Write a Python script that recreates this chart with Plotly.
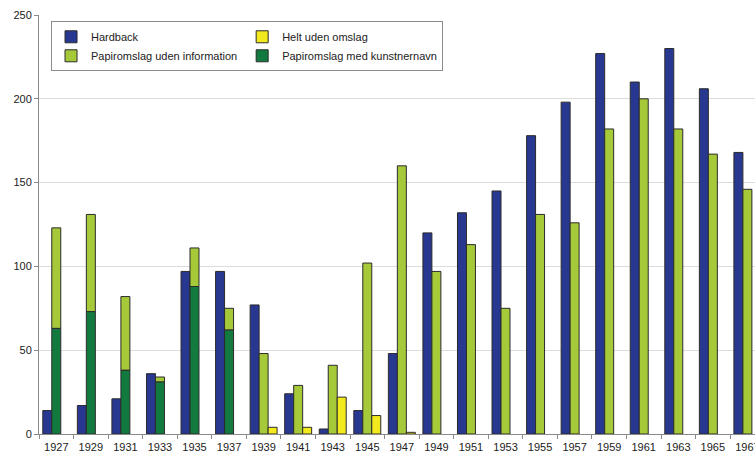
import plotly.graph_objects as go

years = ["1927", "1929", "1931", "1933", "1935", "1937", "1939", "1941", "1943", "1945", "1947",
         "1949", "1951", "1953", "1955", "1957", "1959", "1961", "1963", "1965", "1967"]
hardback = [14, 17, 21, 36, 97, 97, 77, 24, 3, 14, 48, 120, 132, 145, 178, 198, 227, 210, 230, 206, 168]
papir_kunstner = [63, 73, 38, 31, 88, 62, 0, 0, 0, 0, 0, 0, 0, 0, 0, 0, 0, 0, 0, 0, 0]
papir_total = [123, 131, 82, 34, 111, 75, 48, 29, 41, 102, 160, 97, 113, 75, 131, 126, 182, 200, 182, 167, 146]
helt_uden = [0, 0, 0, 0, 0, 0, 4, 4, 22, 11, 1, 0, 0, 0, 0, 0, 0, 0, 0, 0, 0]

papir_uden_info = [t - k for t, k in zip(papir_total, papir_kunstner)]


def nz(values):
    return [v if v else None for v in values]


C_BLUE = "#283891"
C_LGREEN = "#A6C93A"
C_DGREEN = "#137A3F"
C_YELLOW = "#F3EA1D"
OUTLINE = "#2b2b2b"
BW = 0.26

FONT = "Liberation Sans, Arial, sans-serif"

fig = go.Figure()
fig.add_trace(go.Bar(name="Hardback", x=years, y=nz(hardback), width=BW, offset=-1.5 * BW,
                     marker=dict(color=C_BLUE, line=dict(color=OUTLINE, width=1)),
                     legendgroup="a"))
fig.add_trace(go.Bar(name="Papiromslag uden information", x=years, y=nz(papir_uden_info),
                     base=papir_kunstner, width=BW, offset=-0.5 * BW,
                     marker=dict(color=C_LGREEN, line=dict(color=OUTLINE, width=1)),
                     legendgroup="a"))
fig.add_trace(go.Bar(name="Helt uden omslag", x=years, y=nz(helt_uden), width=BW, offset=0.5 * BW,
                     marker=dict(color=C_YELLOW, line=dict(color=OUTLINE, width=1)),
                     legendgroup="b"))
fig.add_trace(go.Bar(name="Papiromslag med kunstnernavn", x=years, y=nz(papir_kunstner),
                     width=BW, offset=-0.5 * BW,
                     marker=dict(color=C_DGREEN, line=dict(color=OUTLINE, width=1)),
                     legendgroup="b"))

fig.update_layout(
    width=755, height=455,
    margin=dict(l=39, r=0, t=15, b=21, autoexpand=False),
    barmode="overlay",
    paper_bgcolor="white", plot_bgcolor="white",
    font=dict(family=FONT, size=11, color="#222"),
    hovermode=False,
    legend=dict(
        orientation="h", x=0.0168, y=0.985, xanchor="left", yanchor="top",
        bgcolor="white", bordercolor="#8c8c8c", borderwidth=1,
        font=dict(family=FONT, size=11, color="#222"),
        traceorder="grouped", itemwidth=30,
        tracegroupgap=0,
    ),
    xaxis=dict(
        type="category", range=[-0.5, 20.22], automargin=False,
        showline=True, linecolor="#8a8a8a", linewidth=1,
        ticks="outside", tickson="boundaries", ticklen=4, tickcolor="#8a8a8a",
        showgrid=False, tickfont=dict(size=11, color="#222"),
        ticklabelstandoff=3,
        fixedrange=True,
    ),
    yaxis=dict(
        range=[0, 250], tickvals=[0, 50, 100, 150, 200, 250], automargin=False,
        showline=True, linecolor="#8a8a8a", linewidth=1,
        ticks="outside", ticklen=4, tickcolor="#8a8a8a",
        showgrid=True, gridcolor="#dcdcdc", gridwidth=1,
        zeroline=False, tickfont=dict(size=11, color="#222"),
        fixedrange=True,
    ),
)

fig.write_html("out.html", config={"displayModeBar": False})
